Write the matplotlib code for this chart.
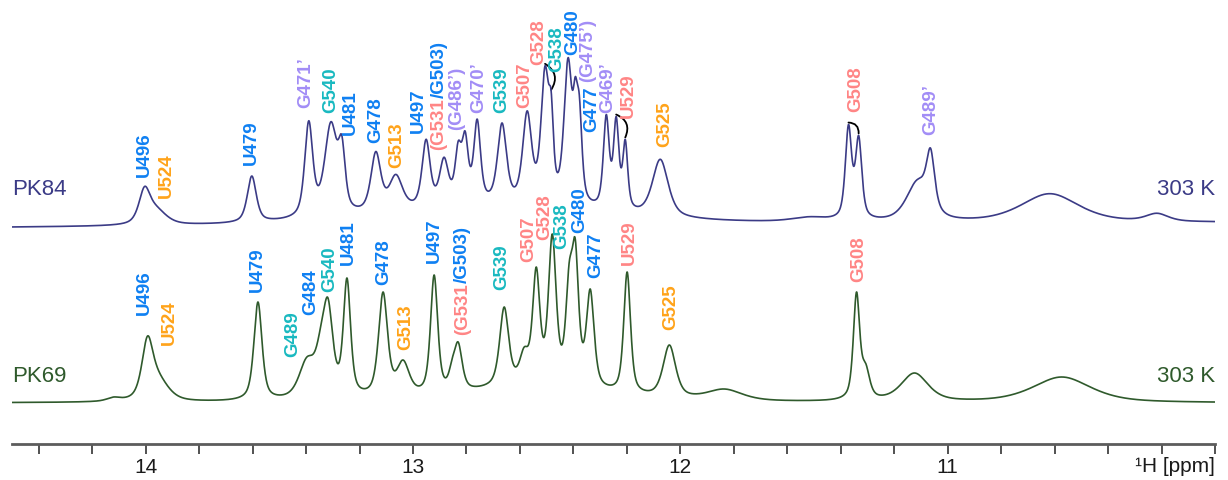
import numpy as np
import matplotlib
matplotlib.use("Agg")
import matplotlib.pyplot as plt
from matplotlib.patches import FancyArrowPatch

plt.rcParams["font.family"] = ["Liberation Sans", "DejaVu Sans"]

# ---------------- spectral data (ppm, height above baseline, half width) ----
pk84_ppm = [14.004, 13.960, 13.603, 13.390, 13.307, 13.266, 13.139, 13.064,
            12.951, 12.884, 12.831, 12.805, 12.760, 12.667, 12.573, 12.506,
            12.483, 12.420, 12.393, 12.378, 12.277, 12.240, 12.206, 12.075,
            11.517, 11.371, 11.333, 11.112, 11.064, 10.618, 10.217]
pk84_height = [41, 22, 51, 106, 105, 91, 75, 52,
               87, 69, 85, 95, 107, 103, 115, 160,
               134, 168, 149, 131, 111, 109, 86, 66,
               8, 100, 89, 45, 76, 30, 10]
pk84_hwhm = [0.025, 0.045, 0.02, 0.018, 0.028, 0.015, 0.022, 0.03,
             0.018, 0.02, 0.014, 0.014, 0.015, 0.02, 0.02, 0.018,
             0.01, 0.018, 0.01, 0.012, 0.013, 0.012, 0.011, 0.035,
             0.08, 0.014, 0.014, 0.05, 0.018, 0.13, 0.05]
pk84_envelope = (12.7, 18, 0.5)      # centre, height, half width

pk69_ppm = [14.120, 13.993, 13.951, 13.580, 13.397, 13.345, 13.318, 13.247,
            13.112, 13.037, 12.921, 12.854, 12.831, 12.659, 12.584, 12.539,
            12.479, 12.416, 12.393, 12.337, 12.199, 12.041, 11.835, 11.341,
            11.307, 11.124, 10.573]
pk69_height = [6, 67, 32, 101, 46, 77, 105, 125,
               111, 43, 128, 44, 61, 96, 56, 136,
               169, 140, 164, 114, 131, 58, 14, 111,
               40, 30, 26]
pk69_hwhm = [0.03, 0.025, 0.045, 0.018, 0.035, 0.025, 0.022, 0.016,
             0.02, 0.028, 0.016, 0.015, 0.018, 0.02, 0.02, 0.016,
             0.017, 0.015, 0.015, 0.017, 0.015, 0.028, 0.08, 0.014,
             0.018, 0.06, 0.13]
pk69_envelope = (12.55, 15, 0.3)

# ---------------- assignments: (text, ppm, label base height, colour) --------
BLUE, ORANGE, PINK, TEAL, LAV = "#0f80f2", "#ffa31a", "#ff8585", "#19b9c0", "#a28df6"

pk84_labels = [("U496", 14.004, 268, BLUE), ("U524", 13.921, 247, ORANGE),
               ("U479", 13.603, 280, BLUE), ("G471’", 13.401, 337, LAV),
               ("G540", 13.307, 332, TEAL), ("U481", 13.236, 310, BLUE),
               ("G478", 13.139, 302, BLUE), ("G513", 13.060, 277, ORANGE),
               ("U497", 12.981, 312, BLUE), ("(G486’)", 12.835, 315, LAV),
               ("G470’", 12.753, 332, LAV), ("G539", 12.667, 332, TEAL),
               ("G507", 12.581, 337, PINK), ("G528", 12.528, 380, PINK),
               ("G538", 12.461, 373, TEAL), ("G480", 12.404, 390, BLUE),
               ("G477", 12.333, 313, BLUE), ("(G475’)", 12.348, 363, LAV),
               ("G469’", 12.273, 332, LAV), ("U529", 12.195, 327, PINK),
               ("G525", 12.060, 298, ORANGE), ("G508", 11.345, 333, PINK),
               ("G489’", 11.064, 310, LAV)]
pk84_pair = (12.903, 295)

pk69_labels = [("U496", 14.004, 130, BLUE), ("U524", 13.910, 100, ORANGE),
               ("U479", 13.581, 153, BLUE), ("G489", 13.449, 88, TEAL),
               ("G484", 13.382, 130, BLUE), ("G540", 13.311, 153, TEAL),
               ("U481", 13.243, 180, BLUE), ("G478", 13.109, 160, BLUE),
               ("G513", 13.026, 95, ORANGE), ("U497", 12.921, 182, BLUE),
               ("G539", 12.667, 155, TEAL), ("G507", 12.566, 183, PINK),
               ("G528", 12.509, 205, PINK), ("G538", 12.442, 196, TEAL),
               ("G480", 12.378, 212, BLUE), ("G477", 12.315, 167, BLUE),
               ("U529", 12.191, 180, PINK), ("G525", 12.034, 115, ORANGE),
               ("G508", 11.333, 163, PINK)]
pk69_pair = (12.816, 110)

# doublets joined by a small arc (pk84)
pk84_arcs = [(12.506, 12.483), (12.240, 12.206), (11.371, 11.333)]

PK84_COLOR, PK69_COLOR = "#3b3b86", "#2f5a2c"
PK84_BASE = (216, 221)     # baseline at 14.5 and 10.0 ppm
PK69_BASE = (41, 41)
ETA = 0.6                  # Lorentzian fraction of the pseudo-Voigt line shape


def lineshape(x, c, w):
    u = (x - c) / w
    return ETA / (1.0 + u ** 2) + (1 - ETA) * np.exp(-np.log(2) * u ** 2)


def build_spectrum(x, ppm, height, hwhm, env, base):
    ppm = np.asarray(ppm, float)
    height = np.asarray(height, float)
    hwhm = np.asarray(hwhm, float)
    ec, eh, ew = env
    # amplitudes such that the summed line shape reaches each measured height
    m = lineshape(ppm[:, None], ppm[None, :], hwhm[None, :])
    target = height - eh * lineshape(ppm, ec, ew)
    amp = np.clip(np.linalg.solve(m, target), 0, None)
    y = eh * lineshape(x, ec, ew)
    for a, c, w in zip(amp, ppm, hwhm):
        y = y + a * lineshape(x, c, w)
    baseline = base[0] + (base[1] - base[0]) * (14.5 - x) / 4.5
    return y + baseline


fig = plt.figure(figsize=(12.28, 4.81), dpi=100)
ax = fig.add_axes([12 / 1228, 36 / 481, 1203 / 1228, 445 / 481])
ax.set_xlim(14.5, 10.0)
ax.set_ylim(0, 445)

grid = np.linspace(14.5, 10.0, 6000)
y84 = build_spectrum(grid, pk84_ppm, pk84_height, pk84_hwhm, pk84_envelope, PK84_BASE)
y69 = build_spectrum(grid, pk69_ppm, pk69_height, pk69_hwhm, pk69_envelope, PK69_BASE)
ax.plot(grid, y84, color=PK84_COLOR, lw=1.2)
ax.plot(grid, y69, color=PK69_COLOR, lw=1.2)

label_kw = dict(rotation=90, ha="center", va="bottom", fontsize=13.5, fontweight="bold")
for txt, x, y, c in pk84_labels + pk69_labels:
    ax.text(x, y, txt, color=c, **label_kw)

for px, py in (pk84_pair, pk69_pair):
    t1 = ax.text(px, py, "(G531", color=PINK, **label_kw)
    ax.annotate("/G503)", xy=(0.5, 1.0), xycoords=t1, color=BLUE, **label_kw)

# arcs joining doublet components
for a, b in pk84_arcs:
    ya = np.interp(a, grid[::-1], y84[::-1]) + 2
    yb = np.interp(b, grid[::-1], y84[::-1]) + 2
    arc = FancyArrowPatch((a, ya), (b, yb), arrowstyle="-",
                          connectionstyle="arc3,rad=-0.5", color="black",
                          lw=1.3, shrinkA=0, shrinkB=0)
    ax.add_patch(arc)

ytr = ax.get_yaxis_transform()
ax.text(0.0, 255, "PK84", color=PK84_COLOR, fontsize=16, ha="left", va="center", transform=ytr)
ax.text(0.0, 68, "PK69", color=PK69_COLOR, fontsize=16, ha="left", va="center", transform=ytr)
ax.text(1.0, 255, "303 K", color=PK84_COLOR, fontsize=16, ha="right", va="center", transform=ytr)
ax.text(1.0, 68, "303 K", color=PK69_COLOR, fontsize=16, ha="right", va="center", transform=ytr)

# ppm axis
for s in ("left", "right", "top"):
    ax.spines[s].set_visible(False)
ax.spines["bottom"].set_color("#5c5c5c")
ax.spines["bottom"].set_linewidth(2.0)
ax.set_yticks([])
ticks = np.round(np.arange(10.0, 14.41, 0.2), 1)
ax.set_xticks(ticks)
ax.set_xticklabels([str(int(t)) if abs(t - round(t)) < 1e-6 and 11 <= t <= 14 else ""
                    for t in ticks])
ax.tick_params(axis="x", direction="out", length=7, width=1.2, color="#333333",
               labelsize=15, pad=2.5, labelcolor="#1a1a1a")
ax.text(1.0, -0.049, "¹H [ppm]", transform=ax.transAxes, ha="right", va="center",
        fontsize=15, color="#1a1a1a")

fig.savefig("out.png", dpi=100)
